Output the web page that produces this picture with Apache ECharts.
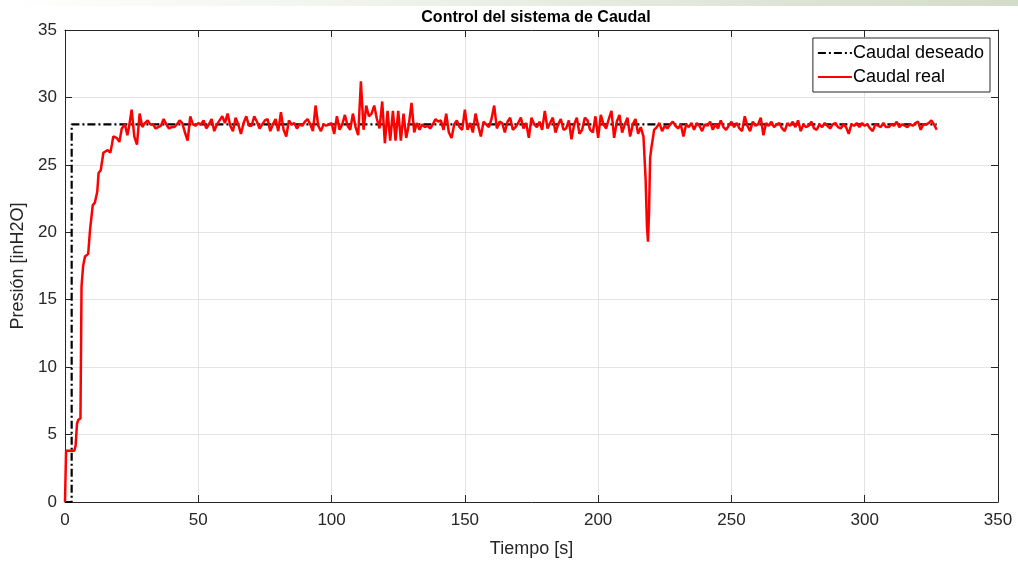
<!DOCTYPE html>
<html>
<head>
<meta charset="utf-8">
<script src="https://cdn.jsdelivr.net/npm/echarts@6/dist/echarts.min.js"></script>
<style>
html, body { margin: 0; padding: 0; background: #fff; }
#chart { width: 1018px; height: 563px; }
</style>
</head>
<body>
<div id="chart"></div>
<script>
// datos
var titulo = 'Control del sistema de Caudal';
var nombres = ['Caudal deseado', 'Caudal real'];
var ticksX = [0, 50, 100, 150, 200, 250, 300, 350];
var ticksY = [0, 5, 10, 15, 20, 25, 30, 35];

// consigna [t, valor]
var caudalDeseado = [[0, 0], [2.5, 0], [2.5, 28], [327, 28]];

// respuesta medida [t, valor]
var caudalReal = [
    [0, 0], [0.4, 3.8], [3.5, 3.8], [4, 4.2], [4.5, 5.8], [5, 6.1], [5.8, 6.2], [6.2, 16.0], [6.8, 17.5],
    [7.5, 18.2], [8.7, 18.4], [9.4, 20.2], [10.4, 22], [11.2, 22.2], [12.1, 23], [12.6, 24.4], [13.4, 24.6],
    [14.4, 25.9], [15, 26.0], [16, 26.1], [17, 25.9], [17.6, 26.5], [18.1, 27.1], [19.4, 27.0], [20.4, 26.7],
    [21.3, 27.7], [22.5, 28.0], [23.4, 27.2],
    [24, 27.8], [25, 29.1], [26, 27.1], [27, 26.5], [28, 28.8], [29, 27.8], [30, 28.1], [31, 28.3], [32, 28.0],
    [33, 28.0], [34, 27.7], [35, 27.8], [36, 27.9], [37, 28.4], [38, 28.0], [39, 27.7], [40, 27.8], [41, 27.8],
    [42, 28.0], [43, 28.3], [44, 28.1], [45, 27.4], [46, 26.8], [47, 28.6], [48, 28.0], [49, 27.9], [50, 28.1],
    [51, 28.0], [52, 28.3], [53, 27.7], [54, 28.0], [55, 28.4], [56, 27.5], [57, 28.0], [58, 28.3], [59, 28.6],
    [60, 28.1], [61, 28.8], [62, 27.9], [63, 27.5], [64, 28.5], [65, 28.0], [66, 27.3], [67, 28.1], [68, 28.6],
    [69, 27.9], [70, 27.9], [71, 28.6], [72, 28.2], [73, 27.7], [74, 28.0], [75, 28.3], [76, 28.4], [77, 27.5],
    [78, 28.0], [79, 28.4], [80, 27.5], [81, 28.9], [82, 27.6], [83, 27.1], [84, 28.3], [85, 28.0], [86, 28.1],
    [87, 27.7], [88, 28.0], [89, 27.9], [90, 28.2], [91, 28.4], [92, 28.0], [93, 27.5], [94, 29.4], [95, 27.9],
    [96, 27.5], [97, 28.0], [98, 27.9], [99, 28.0], [100, 28.1], [101, 27.3], [102, 28.6], [103, 27.6], [104, 28.0],
    [105, 28.7], [106, 27.9], [107, 27.6], [108, 28.8], [109, 27.8], [110, 27.2], [111, 31.2], [112, 27.6],
    [113, 29.4], [114, 28.6], [115, 28.8], [116, 29.4], [117, 28.4], [118, 27.7], [119, 29.7], [120, 26.6],
    [121, 29.0], [122, 26.8], [123, 29.0], [124, 26.8], [125, 29.0], [126, 26.8], [127, 28.8], [128, 27.0],
    [129, 28.0], [130, 29.6], [131, 27.4], [132, 28.1], [133, 27.6], [134, 28.0], [135, 27.8], [136, 27.9],
    [137, 27.7], [138, 28.0], [139, 28.4], [140, 28.2], [141, 28.3], [142, 27.6], [143, 28.8], [144, 27.4],
    [145, 27.0], [146, 28.0], [147, 28.3], [148, 27.8], [149, 27.6], [150, 29.1], [151, 27.6], [152, 28.1],
    [153, 27.4], [154, 28.8], [155, 27.9], [156, 27.1], [157, 28.2], [158, 28.0], [159, 27.8], [160, 28.4],
    [161, 29.4], [162, 27.7], [163, 28.2], [164, 28.1], [165, 27.4], [166, 28.2], [167, 28.5], [168, 27.6],
    [169, 27.8], [170, 28.1], [171, 28.5], [172, 27.7], [173, 28.1], [174, 27.0], [175, 28.5], [176, 28.0],
    [177, 27.8], [178, 28.2], [179, 27.6], [180, 29.0], [181, 27.7], [182, 28.1], [183, 28.5], [184, 27.4],
    [185, 28.0], [186, 28.4], [187, 27.6], [188, 27.7], [189, 28.3], [190, 26.9], [191, 28.0], [192, 28.5],
    [193, 27.3], [194, 27.6], [195, 28.5], [196, 28.3], [197, 27.6], [198, 27.4], [199, 28.6], [200, 27.0],
    [201, 28.7], [202, 28.0], [203, 27.7], [204, 28.4], [205, 29.0], [206, 27.0], [207, 28.2], [208, 28.7],
    [209, 27.4], [210, 28.0], [211, 28.5], [212, 27.1], [213, 28.0], [214, 28.4], [215, 27.3], [216, 27.8],
    [217, 27.1], [217.8, 24], [218.3, 20.5], [218.7, 19.3], [219.1, 21.5], [219.5, 25.5], [220, 26.3], [220.7, 27.2],
    [221, 27.6], [222, 27.8], [223, 28.1], [224, 27.5], [225, 27.9], [226, 27.7], [227, 28.0], [228, 28.2],
    [229, 27.9], [230, 27.7], [231, 28.0], [232, 27.1], [233, 28.0], [234, 27.8], [235, 28.1], [236, 27.6],
    [237, 28.1], [238, 27.9], [239, 27.5], [240, 28.0], [241, 27.9], [242, 28.2], [243, 27.6], [244, 28.0],
    [245, 27.7], [246, 28.3], [247, 27.8], [248, 27.6], [249, 27.9], [250, 28.2], [251, 27.8], [252, 28.1],
    [253, 27.7], [254, 27.5], [255, 28.6], [256, 27.9], [257, 27.5], [258, 28.2], [259, 27.9], [260, 28.0],
    [261, 28.5], [262, 27.2], [263, 28.1], [264, 27.9], [265, 28.2], [266, 27.8], [267, 28.0], [268, 28.1],
    [269, 27.7], [270, 27.5], [271, 28.1], [272, 27.9], [273, 28.2], [274, 27.8], [275, 28.3], [276, 27.5],
    [277, 28.0], [278, 27.8], [279, 27.9], [280, 28.2], [281, 27.7], [282, 27.6], [283, 28.0], [284, 27.8],
    [285, 28.1], [286, 27.9], [287, 27.7], [288, 28.0], [289, 28.1], [290, 27.8], [291, 27.7], [292, 28.0],
    [293, 27.8], [294, 27.3], [295, 28.0], [296, 27.9], [297, 28.1], [298, 27.8], [299, 28.1], [300, 27.9],
    [301, 28.0], [302, 27.7], [303, 27.5], [304, 28.0], [305, 27.9], [306, 27.8], [307, 28.1], [308, 27.8],
    [309, 27.8], [310, 28.0], [311, 27.9], [312, 28.2], [313, 27.8], [314, 28.0], [315, 27.9], [316, 27.8],
    [317, 28.0], [318, 27.9], [319, 28.1], [320, 28.2], [321, 27.6], [322, 28.0], [323, 28.0], [324, 28.1],
    [325, 28.3], [326, 28.0], [327, 27.6]
];

var fuente = 'Liberation Sans, Arial, sans-serif';
var colorEje = '#262626';
var myChart = echarts.init(document.getElementById('chart'));

function ejeX(abajo) {
    return {
        type: 'value',
        position: abajo ? 'bottom' : 'top',
        min: ticksX[0],
        max: ticksX[ticksX.length - 1],
        interval: 50,
        name: abajo ? 'Tiempo [s]' : '',
        nameLocation: 'middle',
        nameGap: 38,
        nameTextStyle: { color: colorEje, fontSize: 18, fontFamily: fuente },
        axisLine: { show: true, onZero: false, lineStyle: { color: colorEje, width: 1 } },
        axisTick: { show: true, inside: true, length: 7, lineStyle: { color: colorEje } },
        axisLabel: { show: abajo, color: colorEje, fontSize: 17, fontFamily: fuente, margin: 10 },
        splitLine: { show: abajo, lineStyle: { color: '#e3e3e3', width: 1 } }
    };
}

function ejeY(izq) {
    return {
        type: 'value',
        position: izq ? 'left' : 'right',
        min: ticksY[0],
        max: ticksY[ticksY.length - 1],
        interval: 5,
        name: izq ? 'Presión [inH2O]' : '',
        nameLocation: 'middle',
        nameGap: 36,
        nameTextStyle: { color: colorEje, fontSize: 18, fontFamily: fuente },
        axisLine: { show: true, onZero: false, lineStyle: { color: colorEje, width: 1 } },
        axisTick: { show: true, inside: true, length: 7, lineStyle: { color: colorEje } },
        axisLabel: { show: izq, color: colorEje, fontSize: 17, fontFamily: fuente, margin: 8 },
        splitLine: { show: izq, lineStyle: { color: '#e3e3e3', width: 1 } }
    };
}

var option = {
    backgroundColor: '#fff',
    animation: false,
    graphic: [{
        type: 'rect',
        left: 0, top: 0,
        shape: { width: 1018, height: 6 },
        style: {
            fill: new echarts.graphic.LinearGradient(0, 0, 1, 0, [
                { offset: 0, color: '#ffffff' },
                { offset: 0.3, color: '#f3f5ef' },
                { offset: 1, color: '#d3dcc8' }
            ])
        },
        silent: true
    }],
    title: {
        text: titulo,
        left: 531,
        textAlign: 'center',
        top: 5,
        textStyle: { color: '#000', fontSize: 16, fontWeight: 'bold', fontFamily: fuente }
    },
    legend: {
        data: nombres,
        orient: 'vertical',
        right: 28,
        top: 38,
        padding: [6, 6, 6, 4],
        itemGap: 6,
        itemWidth: 34,
        itemHeight: 14,
        itemStyle: { opacity: 0 },
        borderColor: colorEje,
        borderWidth: 1,
        backgroundColor: '#fff',
        textStyle: { color: '#000', fontSize: 18, fontFamily: fuente, padding: [0, 0, 0, -4] }
    },
    grid: { left: 65, right: 20, top: 30, bottom: 61, containLabel: false },
    xAxis: [ejeX(true), ejeX(false)],
    yAxis: [ejeY(true), ejeY(false)],
    series: [
        {
            name: nombres[0],
            type: 'line',
            data: caudalDeseado,
            showSymbol: false,
            symbol: 'none',
            z: 3,
            lineStyle: { color: '#000', width: 2.2, type: [8, 3, 2, 3] },
            itemStyle: { color: '#000' }
        },
        {
            name: nombres[1],
            type: 'line',
            data: caudalReal,
            showSymbol: false,
            symbol: 'none',
            z: 4,
            lineStyle: { color: '#ff0000', width: 2.5 },
            itemStyle: { color: '#ff0000' }
        }
    ]
};

myChart.setOption(option);
window.addEventListener('resize', function () {
    myChart.resize();
});
</script>
</body>
</html>
